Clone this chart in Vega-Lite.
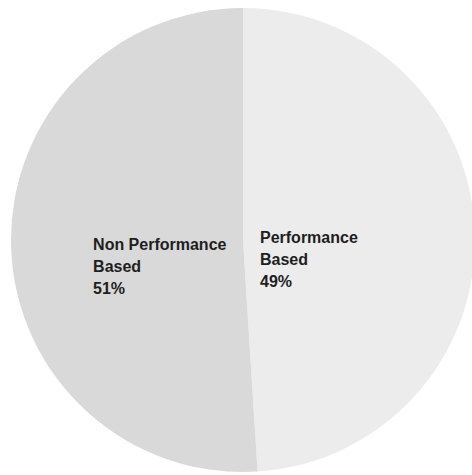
{
  "$schema": "https://vega.github.io/schema/vega-lite/v6.json",
  "autosize": "none",
  "width": 458,
  "height": 470,
  "padding": {"left": 14, "top": 5, "right": 0, "bottom": 0},
  "background": "white",
  "view": {"stroke": null},
  "data": {
    "values": [
      {"category": "Performance Based", "share": 49, "seq": 1, "label": "Performance\nBased\n49%"},
      {"category": "Non Performance Based", "share": 51, "seq": 2, "label": "Non Performance\nBased\n51%"}
    ]
  },
  "encoding": {
    "theta": {"field": "share", "type": "quantitative", "stack": true},
    "order": {"field": "seq", "type": "quantitative"}
  },
  "layer": [
    {
      "mark": {"type": "arc", "outerRadius": 232, "stroke": null},
      "encoding": {
        "color": {
          "field": "category",
          "type": "nominal",
          "scale": {"domain": ["Performance Based", "Non Performance Based"], "range": ["#ececec", "#d9d9d9"]},
          "legend": null
        }
      }
    },
    {
      "mark": {"type": "text", "radius": 150, "align": "left", "baseline": "top", "dy": -8, "font": "Liberation Sans", "fontWeight": "bold", "fontSize": 16, "lineBreak": "\n", "lineHeight": 22, "fill": "#1e1e1e"},
      "encoding": {
        "text": {"condition": {"test": "datum.category === 'Non Performance Based'", "field": "label"}, "value": ""}
      }
    },
    {
      "mark": {"type": "text", "radius": 17, "align": "left", "baseline": "top", "dy": -9, "font": "Liberation Sans", "fontWeight": "bold", "fontSize": 16, "lineBreak": "\n", "lineHeight": 22, "fill": "#1e1e1e"},
      "encoding": {
        "text": {"condition": {"test": "datum.category === 'Performance Based'", "field": "label"}, "value": ""}
      }
    }
  ]
}
